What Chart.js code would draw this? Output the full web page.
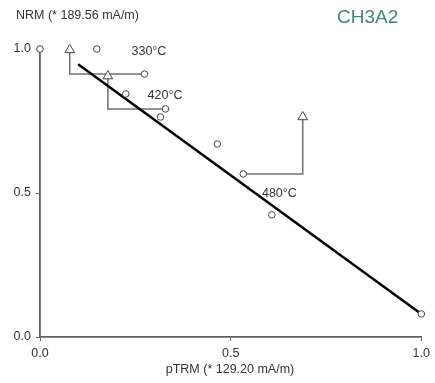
<!DOCTYPE html>
<html>
<head>
<meta charset="utf-8">
<script src="https://cdn.jsdelivr.net/npm/chart.js@4"></script>
<style>
html,body{margin:0;padding:0;background:#fff;}
#wrap{width:435px;height:383px;}
</style>
</head>
<body>
<div id="wrap"><canvas id="c" width="435" height="383"></canvas></div>
<script>
// Arai (NRM vs pTRM) data, normalized
const circlesX = [0.0, 0.149, 0.274, 0.225, 0.329, 0.316, 0.465, 0.533, 0.608, 1.0];
const circlesY = [1.0, 1.0, 0.913, 0.844, 0.792, 0.764, 0.670, 0.566, 0.424, 0.080];
const checksX = [0.078, 0.178, 0.689];
const checksY = [0.997, 0.906, 0.764];
// each check connects to this circle index
const checkTarget = [2, 4, 7];
const fitX = [0.100, 1.0];
const fitY = [0.947, 0.080];
const tempLabels = ["330°C", "420°C", "480°C"];
const tempX = [0.240, 0.282, 0.582];
const tempY = [0.990, 0.837, 0.497];
const tickValues = [0.0, 0.5, 1.0];
const title = "CH3A2";
const yTitle = "NRM (* 189.56 mA/m)";
const xTitle = "pTRM (* 129.20 mA/m)";

const FONT = "'Liberation Sans', Arial, sans-serif";
const pts = (xs, ys) => xs.map((x, i) => ({x: x, y: ys[i]}));

const datasets = [
  {
    type: 'scatter', data: pts(checksX, checksY),
    pointStyle: 'triangle', pointRadius: 5.5, borderColor: '#444', backgroundColor: '#fff',
    borderWidth: 1, clip: false
  },
  {
    type: 'scatter', data: pts(circlesX, circlesY),
    pointStyle: 'circle', pointRadius: 3.3, borderColor: '#444', backgroundColor: '#fff',
    borderWidth: 1, clip: false
  },
  {
    type: 'line', data: pts(fitX, fitY), borderColor: '#000', borderWidth: 2.5,
    pointRadius: 0, fill: false, clip: false
  }
];
checksX.forEach((cx, i) => {
  const t = checkTarget[i];
  datasets.push({
    type: 'line',
    data: [{x: cx, y: checksY[i]}, {x: cx, y: circlesY[t]}, {x: circlesX[t], y: circlesY[t]}],
    borderColor: '#707070', borderWidth: 1.5, pointRadius: 0, fill: false, clip: false
  });
});

const textPlugin = {
  id: 'texts',
  afterDraw(chart) {
    const ctx = chart.ctx, xs = chart.scales.x, ys = chart.scales.y;
    ctx.save();
    ctx.textBaseline = 'middle';
    ctx.fillStyle = '#333';
    ctx.font = '12.5px ' + FONT;
    ctx.textAlign = 'left';
    tempLabels.forEach((l, i) => {
      ctx.fillText(l, xs.getPixelForValue(tempX[i]), ys.getPixelForValue(tempY[i]));
    });
    ctx.fillText(yTitle, 16, 16);
    ctx.textAlign = 'center';
    ctx.fillText(xTitle, 230, 370);
    ctx.fillStyle = '#3d8a6b';
    ctx.font = '19px ' + FONT;
    ctx.textAlign = 'left';
    ctx.fillText(title, 337, 18);
    ctx.restore();
  }
};

const axisCommon = () => ({
  type: 'linear', min: 0, max: 1,
  afterBuildTicks(s) { s.ticks = tickValues.map(v => ({value: v})); },
  border: {display: true, color: '#606060', width: 1.8},
  grid: {display: true, drawOnChartArea: false, drawTicks: true, tickLength: 4, color: '#606060', lineWidth: 1},
  ticks: {color: '#333', font: {family: FONT, size: 12.5}, padding: 5,
    callback: v => Number(v).toFixed(1), autoSkip: false, maxRotation: 0}
});

const xAxis = axisCommon();
xAxis.position = 'bottom';
xAxis.afterFit = s => { s.height = 46; };
const yAxis = axisCommon();
yAxis.position = 'left';
yAxis.afterFit = s => { s.width = 40; };

new Chart(document.getElementById('c'), {
  data: {datasets: datasets},
  options: {
    responsive: false, animation: false,
    layout: {padding: {top: 49, right: 12, left: 0, bottom: 0}},
    plugins: {legend: {display: false}, tooltip: {enabled: false}, title: {display: false}},
    scales: {x: xAxis, y: yAxis}
  },
  plugins: [textPlugin]
});
</script>
</body>
</html>
